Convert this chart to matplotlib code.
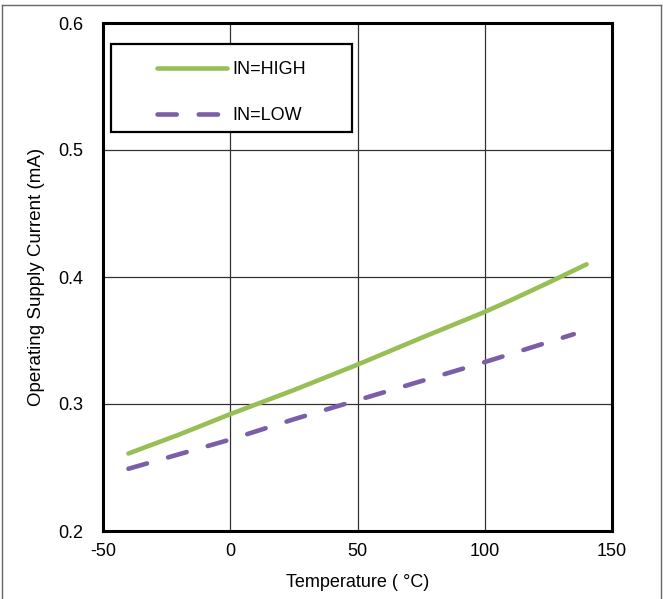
import matplotlib
matplotlib.use("Agg")
import matplotlib.pyplot as plt
from matplotlib.lines import Line2D
from matplotlib.patches import Rectangle

plt.rcParams['font.family'] = ['Liberation Sans', 'DejaVu Sans']
plt.rcParams['axes.unicode_minus'] = False

temp_high = [-40, -20, 0, 25, 50, 75, 100, 110, 125, 140]
curr_high = [0.261, 0.276, 0.292, 0.311, 0.331, 0.352, 0.3725, 0.3815, 0.3955, 0.410]

temp_low = [-40, 0, 25, 50, 75, 100, 135]
curr_low = [0.249, 0.272, 0.288, 0.303, 0.318, 0.333, 0.355]

green = '#97bf55'
purple = '#7b5ea8'
dash = (0, (4.2, 4.8))

fig = plt.figure(figsize=(6.63, 5.99), dpi=100)
ax = fig.add_axes([103/663, 1 - 531/599, (612 - 103)/663, (531 - 23)/599])

ax.plot(temp_high, curr_high, color=green, lw=3.3, solid_capstyle='round', label='IN=HIGH')
ax.plot(temp_low, curr_low, color=purple, lw=3.3, ls=dash, dash_capstyle='round',
        label='IN=LOW')

ax.set_xlim(-50, 150)
ax.set_ylim(0.2, 0.6)
ax.set_xticks([-50, 0, 50, 100, 150])
ax.set_yticks([0.2, 0.3, 0.4, 0.5, 0.6])
ax.set_yticklabels(['0.2', '0.3', '0.4', '0.5', '0.6'])
ax.tick_params(length=0, labelsize=13)
ax.tick_params(axis='y', pad=14)
ax.tick_params(axis='x', pad=9)
ax.grid(True, color='#333333', lw=0.9)
ax.set_axisbelow(True)
for s in ax.spines.values():
    s.set_linewidth(2.2)
    s.set_color('black')

ax.set_xlabel('Temperature ( °C)', fontsize=13, labelpad=10)
ax.set_ylabel('Operating Supply Current (mA)', fontsize=13.5, labelpad=10)

# legend box drawn separately so the entries can sit centred in it
box = Rectangle((8/509, 1 - 109/508), 241/509, 88/508, transform=ax.transAxes,
                facecolor='white', edgecolor='black', lw=1.6, zorder=4)
ax.add_patch(box)

handles = [Line2D([], [], color=green, lw=3.3, solid_capstyle='round'),
           Line2D([], [], color=purple, lw=3.3, ls=dash, dash_capstyle='round')]
leg = ax.legend(handles, ['IN=HIGH', 'IN=LOW'], loc='upper left',
                bbox_to_anchor=((157 - 103)/509, 1 - (61 - 23)/508),
                fontsize=13, frameon=False,
                handlelength=3.9, handletextpad=0.3, labelspacing=1.6, borderpad=0,
                borderaxespad=0)
leg.set_zorder(5)

# thin figure border
fig.add_artist(Line2D([2/663, 2/663], [0, 1 - 5/599], color='#666666', lw=1))
fig.add_artist(Line2D([2/663, 661/663], [1 - 5/599, 1 - 5/599], color='#666666', lw=1))
fig.add_artist(Line2D([661/663, 661/663], [0, 1 - 5/599], color='#666666', lw=1))

plt.savefig('out.png', dpi=100)
